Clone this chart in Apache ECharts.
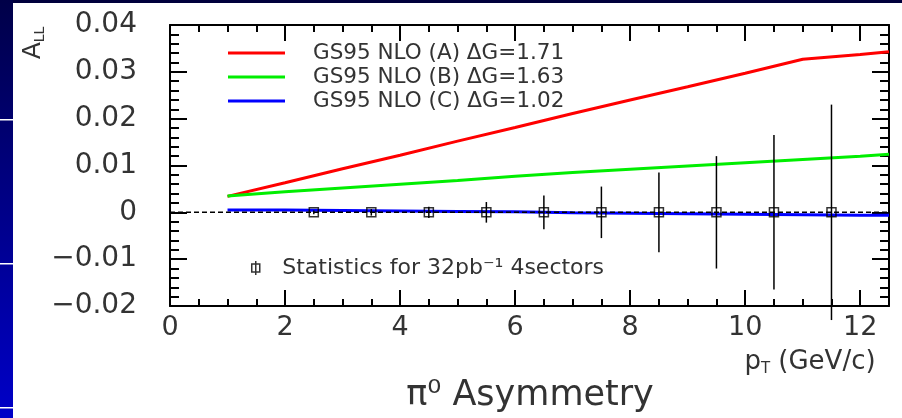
<!DOCTYPE html>
<html><head><meta charset="utf-8">
<script src="https://cdn.jsdelivr.net/npm/echarts@6/dist/echarts.min.js"></script>
<style>html,body{margin:0;padding:0;background:#fff}#c{width:902px;height:418px}</style>
</head><body><div id="c"></div>
<script>
// ---- data ----
const curveX = [1, 2, 3, 4, 5, 6, 7, 8, 9, 10, 11, 12, 12.5];
const curveA = [0.0034, 0.0063, 0.0093, 0.0122, 0.0152, 0.0181, 0.0211, 0.0240, 0.0268, 0.0297, 0.0327, 0.0337, 0.0343];
const curveB = [0.0035, 0.0044, 0.0052, 0.0060, 0.0068, 0.0077, 0.0085, 0.0092, 0.0099, 0.0106, 0.0113, 0.0120, 0.0124];
const curveC = [0.0005, 0.0005, 0.0004, 0.0003, 0.0002, 0.0001, -0.0001, -0.0002, -0.0003, -0.0004, -0.0005, -0.0006, -0.0006];
const statX = [2.5, 3.5, 4.5, 5.5, 6.5, 7.5, 8.5, 9.5, 10.5, 11.5];
const statY = [0, 0, 0, 0, 0, 0, 0, 0, 0, 0];
const statErr = [0.0004, 0.0007, 0.0012, 0.0022, 0.0036, 0.0055, 0.0085, 0.012, 0.0165, 0.023];
const zeroX = [0, 12.5];
const zeroY = [0, 0];
const nameA = 'GS95 NLO (A) \u0394G=1.71';
const nameB = 'GS95 NLO (B) \u0394G=1.63';
const nameC = 'GS95 NLO (C) \u0394G=1.02';
const nameStat = 'Statistics for 32pb\u207B\u00B9 4sectors';
const bottomTitle = '\u03C0\u2070 Asymmetry';

// ---- chart ----
const FF = 'DejaVu Sans';
const TXT = '#333';
const chart = echarts.init(document.getElementById('c'), null, {renderer: 'canvas'});
const zip = (xs, ys) => xs.map((x, i) => [x, ys[i]]);
const yFmt = v => { const r = Math.round(v * 100) / 100; if (Math.abs(r) < 1e-9) return '0'; return (r < 0 ? '\u2212' : '') + Math.abs(r).toFixed(2); };
const xFmt = v => { const r = Math.round(v * 100) / 100; return (r % 2 === 0) ? String(r) : ''; };

const axisCommonX = {
  type: 'value', min: 0, max: 12.5, interval: 2,
  axisLine: {show: true, onZero: false, lineStyle: {color: '#000', width: 2}},
  axisTick: {show: true, inside: true, length: 16, lineStyle: {color: '#000', width: 2}},
  minorTick: {show: true, splitNumber: 4, length: 7, lineStyle: {color: '#000', width: 2}},
  splitLine: {show: false}
};
const axisCommonY = {
  type: 'value', min: -0.02, max: 0.04, interval: 0.01,
  axisLine: {show: true, onZero: false, lineStyle: {color: '#000', width: 2}},
  axisTick: {show: true, inside: true, length: 17, lineStyle: {color: '#000', width: 2}},
  minorTick: {show: true, splitNumber: 5, length: 9, lineStyle: {color: '#000', width: 2}},
  splitLine: {show: false}
};

chart.setOption({
  backgroundColor: '#ffffff',
  animation: false,
  textStyle: {fontFamily: FF},
  grid: {left: 170, top: 25, right: 13, bottom: 112, containLabel: false},
  xAxis: [
    Object.assign({}, axisCommonX, {position: 'bottom',
      axisLabel: {show: true, formatter: xFmt, fontFamily: FF, fontSize: 27, color: TXT, margin: 8, showMaxLabel: false}}),
    Object.assign({}, axisCommonX, {position: 'top', axisLabel: {show: false}})
  ],
  yAxis: [
    Object.assign({}, axisCommonY, {position: 'left',
      axisLabel: {show: true, formatter: yFmt, fontFamily: FF, fontSize: 28, color: TXT, margin: 33}}),
    Object.assign({}, axisCommonY, {position: 'right', axisLabel: {show: false}})
  ],
  legend: [
    {
      data: [nameA, nameB, nameC], orient: 'vertical', left: 223, top: 37,
      itemWidth: 57, itemHeight: 3, itemGap: 2, icon: 'rect', selectedMode: false,
      textStyle: {fontFamily: FF, fontSize: 21.5, color: TXT, padding: [0, 0, 0, 23], lineHeight: 21.5}
    },
    {
      data: [{name: nameStat, icon: 'path://M0,3h8v8h-8z M4,0v14',
        itemStyle: {color: 'rgba(0,0,0,0)', borderColor: '#000', borderWidth: 1.5}}],
      left: 246, top: 252, itemWidth: 9, itemHeight: 14, selectedMode: false,
      textStyle: {fontFamily: FF, fontSize: 22, color: TXT, padding: [0, 0, 0, 17]}
    }
  ],
  graphic: [
    {type: 'rect', left: 0, top: 0, z: 100, shape: {width: 902, height: 3}, style: {fill: '#00003c'}},
    {type: 'rect', left: 0, top: 0, z: 100, shape: {width: 13, height: 418},
      style: {fill: new echarts.graphic.LinearGradient(0, 0, 0, 1, [{offset: 0, color: '#000048'}, {offset: 1, color: '#0000c8'}])}},
    {type: 'rect', left: 0, top: 119, z: 101, shape: {width: 13, height: 1.5}, style: {fill: '#ffffff'}},
    {type: 'rect', left: 0, top: 263, z: 101, shape: {width: 13, height: 1.5}, style: {fill: '#ffffff'}},
    {type: 'rect', left: 0, top: 407, z: 101, shape: {width: 13, height: 1.5}, style: {fill: '#ffffff'}},
    {type: 'text', x: 33, y: 43, rotation: Math.PI / 2, z: 50,
      style: {text: '{a|A}{s|LL}', fill: TXT, align: 'center', verticalAlign: 'middle',
        rich: {a: {fontFamily: FF, fontSize: 25, lineHeight: 28, fill: TXT}, s: {fontFamily: FF, fontSize: 14, lineHeight: 28, verticalAlign: 'bottom', fill: TXT}}}},
    {type: 'text', x: 810, y: 362, z: 50,
      style: {text: '{a|p}{s|T}{a| (GeV/c)}', fill: TXT, align: 'center', verticalAlign: 'middle',
        rich: {a: {fontFamily: FF, fontSize: 26, lineHeight: 30, fill: TXT}, s: {fontFamily: FF, fontSize: 15, lineHeight: 30, verticalAlign: 'bottom', fill: TXT}}}},
    {type: 'text', x: 530, y: 396, z: 50,
      style: {text: bottomTitle, fill: TXT, fontFamily: FF, fontSize: 35, align: 'center', verticalAlign: 'middle'}}
  ],
  series: [
    {name: nameA, type: 'line', data: zip(curveX, curveA), symbol: 'none', color: '#ff0000', lineStyle: {color: '#ff0000', width: 3}, z: 2},
    {name: nameB, type: 'line', data: zip(curveX, curveB), symbol: 'none', color: '#00ee00', lineStyle: {color: '#00ee00', width: 3}, z: 2},
    {name: nameC, type: 'line', data: zip(curveX, curveC), symbol: 'none', color: '#0000ff', lineStyle: {color: '#0000ff', width: 3}, z: 2},
    {name: 'zero', type: 'line', data: zip(zeroX, zeroY), symbol: 'none', lineStyle: {color: '#000', width: 1.5, type: [5, 3]}, z: 3, silent: true},
    {name: nameStat + ' bars', type: 'custom', clip: false, z: 4,
      data: statX.map((x, i) => [x, statY[i], statErr[i]]),
      encode: {x: 0, y: 1},
      renderItem: (params, api) => {
        const x = api.value(0), y = api.value(1), e = api.value(2);
        const t = api.coord([x, y + e]), b = api.coord([x, y - e]);
        return {type: 'line', shape: {x1: t[0], y1: t[1], x2: b[0], y2: b[1]}, style: {stroke: '#000', lineWidth: 1.5}};
      }},
    {name: nameStat, type: 'scatter', data: zip(statX, statY), symbol: 'rect', symbolSize: 9, z: 5,
      itemStyle: {color: 'rgba(0,0,0,0)', borderColor: '#000', borderWidth: 1.5}}
  ]
});
</script>
</body></html>
